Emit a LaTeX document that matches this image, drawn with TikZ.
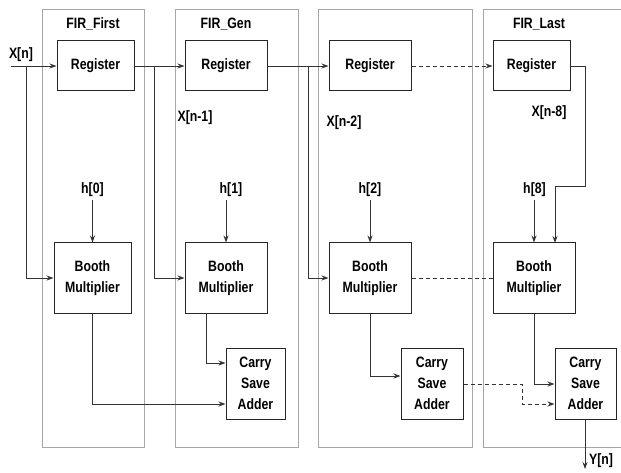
\documentclass[tikz,border=0pt]{standalone}
\usepackage{fontspec}
\setmainfont{Liberation Sans}[FakeStretch=0.82]
\usetikzlibrary{arrows.meta,calc}
\begin{document}
\begin{tikzpicture}[x=1bp,y=-1bp,
  every node/.style={font=\fontsize{15bp}{21bp}\selectfont\bfseries},
  panel/.style={draw=black!35,line width=0.9bp},
  blk/.style={draw=black!85,line width=1bp,inner sep=0pt,align=center,fill=white},
  lbl/.style={inner sep=0pt},
  wire/.style={draw=black!80,line width=0.9bp},
  arr/.style={wire,-{Stealth[length=7bp,width=5bp]}},
  dwire/.style={wire,dashed,dash pattern=on 4bp off 3bp}
]
\useasboundingbox (0,0) rectangle (621,473);
% panels
\draw[panel] (42,9) rectangle (144,447);
\draw[panel] (175,9) rectangle (298,447);
\draw[panel] (318,9) rectangle (472,447);
\draw[panel] (630,9) -- (483,9) -- (483,447) -- (630,447);
% titles
\node[lbl] (t1) at (93,24) {FIR\_First};
\node[lbl] (t2) at (226,24) {FIR\_Gen};
\node[lbl] (t4) at (539,24) {FIR\_Last};
% registers
\node[blk,minimum width=77bp,minimum height=50bp] (r1) at (95.5,66) {Register};
\node[blk,minimum width=82bp,minimum height=50bp] (r2) at (226,66) {Register};
\node[blk,minimum width=82bp,minimum height=50bp] (r3) at (370,66) {Register};
\node[blk,minimum width=77bp,minimum height=50bp] (r4) at (531.5,66) {Register};
% booth
\node[blk,minimum width=77bp,minimum height=70bp] (b1) at (92.5,278) {Booth\\Multiplier};
\node[blk,minimum width=82bp,minimum height=70bp] (b2) at (226,278) {Booth\\Multiplier};
\node[blk,minimum width=82bp,minimum height=70bp] (b3) at (370,278) {Booth\\Multiplier};
\node[blk,minimum width=82bp,minimum height=70bp] (b4) at (534,278) {Booth\\Multiplier};
% csa
\node[blk,minimum width=59bp,minimum height=71bp] (c1) at (255.5,383.5) {Carry\\Save\\Adder};
\node[blk,minimum width=62bp,minimum height=71bp] (c2) at (432,383.5) {Carry\\Save\\Adder};
\node[blk,minimum width=61bp,minimum height=71bp] (c3) at (585.5,383.5) {Carry\\Save\\Adder};
% labels
\node[lbl] (xn) at (21,55) {X[n]};
\node[lbl] (xn1) at (195,118) {X[n-1]};
\node[lbl] (xn2) at (344,123) {X[n-2]};
\node[lbl] (xn8) at (549,113) {X[n-8]};
\node[lbl] (h0) at (92.5,190) {h[0]};
\node[lbl] (h1) at (231,190) {h[1]};
\node[lbl] (h2) at (370,190) {h[2]};
\node[lbl] (h8) at (534.5,190) {h[8]};
\node[lbl] (yn) at (601,461) {Y[n]};
% coordinates
\coordinate (xin) at (11,66);
\coordinate (yout) at (585,469);
% input chain
\draw[arr] (xin) -- (r1.west);
\draw[arr] (26,66) |- (b1.west);
\draw[arr] (r1.east) -- (r2.west);
\draw[arr] (154,66) |- (b2.west);
\draw[arr] (r2.east) -- (r3.west);
\draw[arr] (308,66) |- (b3.west);
\draw[arr,dashed,dash pattern=on 4bp off 3bp] (r3.east) -- (r4.west);
\draw[arr] (r4.east) -- (585,66) -- (585,186) -- (555,186) -- (555,243);
% coefficients
\draw[arr] (92.5,200) -- (b1.north);
\draw[arr] (226,200) -- (b2.north);
\draw[arr] (370,200) -- (b3.north);
\draw[arr] (534,200) -- (b4.north);
% booth chain
\draw[dwire] (b3.east) -- (b4.west);
% products
\draw[arr] (b1.south) |- (c1.west |- 0,404);
\draw[arr] (206,313) |- (c1.west |- 0,363);
\draw[arr] (b3.south) |- (c2.west |- 0,376);
\draw[arr] (b4.south) |- (c3.west |- 0,384);
\draw[arr,dashed,dash pattern=on 4bp off 3bp] (c2.east |- 0,384) -- (522,384) -- (522,404) -- (c3.west |- 0,404);
\draw[arr] (c3.south -| yout) -- (yout);
\end{tikzpicture}
\end{document}
